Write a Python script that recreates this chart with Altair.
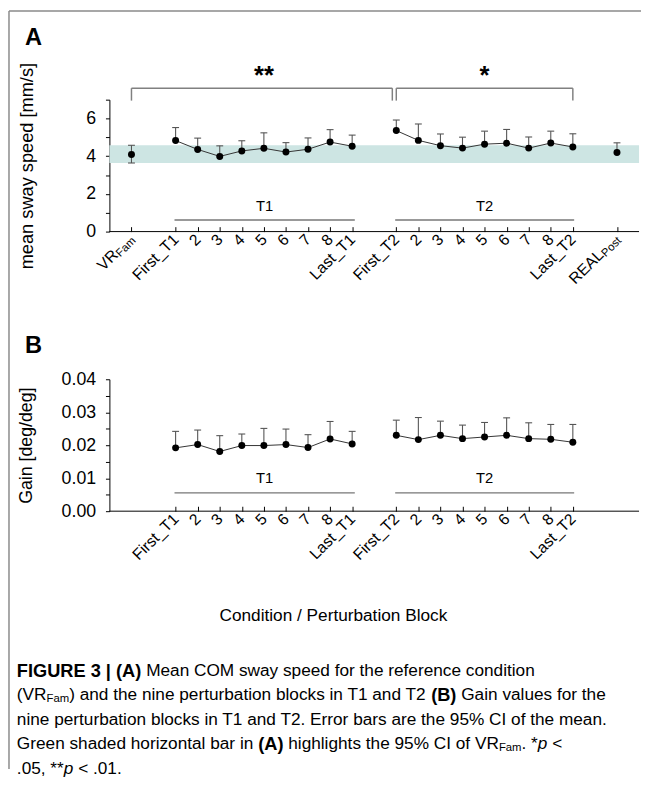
import altair as alt
import pandas as pd

FONT = "Liberation Sans"

# ---------------- data ----------------
# slot positions on the shared x axis (gaps at 1, 11, 21)
vr_pos = 0
t1_pos = [2, 3, 4, 5, 6, 7, 8, 9, 10]
t2_pos = [12, 13, 14, 15, 16, 17, 18, 19, 20]
real_pos = 22
block_labels = ["2", "3", "4", "5", "6", "7", "8"]
t1_labels = ["First_T1"] + block_labels + ["Last_T1"]
t2_labels = ["First_T2"] + block_labels + ["Last_T2"]

# Panel A: mean sway speed [mm/s]
vr_fam, vr_fam_lo, vr_fam_hi = 4.09, 3.64, 4.58
t1_speed = [4.83, 4.36, 3.99, 4.28, 4.42, 4.22, 4.37, 4.75, 4.53]
t1_speed_hi = [5.52, 4.96, 4.55, 4.82, 5.24, 4.72, 4.97, 5.41, 5.12]
t2_speed = [5.36, 4.84, 4.56, 4.43, 4.64, 4.69, 4.43, 4.70, 4.49]
t2_speed_hi = [5.92, 5.71, 5.18, 5.01, 5.33, 5.42, 5.02, 5.33, 5.19]
real_post, real_post_hi = 4.20, 4.71

# Panel B: gain [deg/deg]
t1_gain = [0.0192, 0.0202, 0.0181, 0.0199, 0.0199, 0.0202, 0.0193, 0.0219, 0.0204]
t1_gain_hi = [0.0242, 0.0246, 0.0229, 0.0234, 0.0251, 0.0249, 0.0232, 0.0272, 0.0242]
t2_gain = [0.0230, 0.0217, 0.0230, 0.0220, 0.0225, 0.0230, 0.0220, 0.0218, 0.0209]
t2_gain_hi = [0.0276, 0.0284, 0.0273, 0.0261, 0.0269, 0.0283, 0.0268, 0.0263, 0.0263]

# annotations
brackets_x = [[0, 11.82], [12, 20]]
bracket_y, bracket_tick_y = 7.61, 6.95
stars = ["**", "*"]
stars_x = [6, 16]
stars_y = 8.25
seg_names = ["T1", "T2"]
seg_x = [[1.95, 10.12], [11.95, 20.06]]

# ---------------- layout constants ----------------
W, H = 538, 134
XDOM = [-1, 23]
SLOT_LABELS = [""] * 23
for p, l in zip(t1_pos + t2_pos, t1_labels + t2_labels):
    SLOT_LABELS[p] = l
label_expr = "[" + ",".join("'%s'" % s for s in SLOT_LABELS) + "][datum.value]"

xscale = alt.Scale(domain=XDOM, nice=False, zero=False)
XLAB = 16


def x_axis(values, title=None, **kw):
    return alt.Axis(values=values, labelExpr=label_expr, labelAngle=315,
                    labelAlign="right", labelBaseline="middle", labelFontSize=XLAB,
                    labelFont=FONT, labelColor="black", labelPadding=5,
                    labelOverlap=False, labelFlush=False, labelBound=False,
                    tickSize=5, offset=-5, domain=False, tickColor="black",
                    grid=False, title=title, **kw)


def y_axis(values, expr, title, tsize):
    return alt.Axis(values=values, labelExpr=expr, labelOverlap=False,
                    tickSize=4, labelPadding=10, labelFontSize=18, labelFont=FONT,
                    labelColor="black", domainColor="black", tickColor="black",
                    grid=False, title=title, titleFont=FONT,
                    titleFontSize=tsize, titleFontWeight="normal", titleColor="black",
                    titleX=-84, titleY=H / 2, titleAngle=270, titleAlign="center",
                    titleBaseline="middle")


def seg_layers(XA, YA, yscale, line_y, label_y, size=15):
    d = pd.DataFrame({"x1": [s[0] for s in seg_x], "x2": [s[1] for s in seg_x],
                      "y": [line_y] * 2, "ly": [label_y] * 2,
                      "mx": [(s[0] + s[1]) / 2 for s in seg_x], "t": seg_names})
    ln = alt.Chart(d).mark_rule(color="#777777", strokeWidth=1.5).encode(
        x=alt.X("x1:Q", scale=xscale, axis=XA), x2="x2:Q",
        y=alt.Y("y:Q", scale=yscale, axis=YA))
    tx = alt.Chart(d).mark_text(font=FONT, fontSize=size, color="black",
                                baseline="middle").encode(
        x=alt.X("mx:Q", scale=xscale, axis=XA),
        y=alt.Y("ly:Q", scale=yscale, axis=YA), text="t:N")
    return ln, tx


def data_layers(df, caps, XA, YA, yscale):
    err = alt.Chart(df).mark_rule(color="#555555", strokeWidth=1.1).encode(
        x=alt.X("pos:Q", scale=xscale, axis=XA),
        y=alt.Y("lo:Q", scale=yscale, axis=YA), y2="hi:Q")
    cap = alt.Chart(caps).mark_tick(orient="horizontal", size=7, thickness=1.1,
                                    color="#555555", opacity=1).encode(
        x=alt.X("pos:Q", scale=xscale, axis=XA),
        y=alt.Y("y:Q", scale=yscale, axis=YA))
    line = alt.Chart(df).transform_filter(
        "datum.grp == 'T1' || datum.grp == 'T2'").mark_line(
        color="#333333", strokeWidth=1).encode(
        x=alt.X("pos:Q", scale=xscale, axis=XA),
        y=alt.Y("mean:Q", scale=yscale, axis=YA), detail="grp:N")
    pts = alt.Chart(df).mark_circle(size=50, color="black", opacity=1).encode(
        x=alt.X("pos:Q", scale=xscale, axis=XA),
        y=alt.Y("mean:Q", scale=yscale, axis=YA))
    base = alt.Chart(pd.DataFrame({"x1": [XDOM[0]], "x2": [XDOM[1]], "y": [0]})).mark_rule(
        color="black", strokeWidth=1).encode(
        x=alt.X("x1:Q", scale=xscale, axis=XA), x2="x2:Q",
        y=alt.Y("y:Q", scale=yscale, axis=YA))
    return [err, cap, line, pts, base]


# ---------------- panel A ----------------
rowsA = [dict(pos=vr_pos, mean=vr_fam, lo=vr_fam_lo, hi=vr_fam_hi, grp="VR")]
for p, m, h in zip(t1_pos, t1_speed, t1_speed_hi):
    rowsA.append(dict(pos=p, mean=m, lo=m, hi=h, grp="T1"))
for p, m, h in zip(t2_pos, t2_speed, t2_speed_hi):
    rowsA.append(dict(pos=p, mean=m, lo=m, hi=h, grp="T2"))
rowsA.append(dict(pos=real_pos, mean=real_post, lo=real_post, hi=real_post_hi, grp="REAL"))
dfA = pd.DataFrame(rowsA)
capsA = pd.DataFrame({"pos": [r["pos"] for r in rowsA] + [vr_pos],
                      "y": [r["hi"] for r in rowsA] + [vr_fam_lo]})

yA = alt.Scale(domain=[0, 7], nice=False, zero=True)
XA_A = x_axis([vr_pos] + t1_pos + t2_pos + [real_pos])
YA_A = y_axis(list(range(8)), "datum.value % 2 == 0 ? datum.label : ''",
              "mean sway speed [mm/s]", 18.5)

band = alt.Chart(pd.DataFrame({"x1": [XDOM[0]], "x2": [XDOM[1]],
                               "lo": [vr_fam_lo], "hi": [vr_fam_hi]})).mark_rect(
    color="#cde5e3").encode(
    x=alt.X("x1:Q", scale=xscale, axis=XA_A), x2="x2:Q",
    y=alt.Y("lo:Q", scale=yA, axis=YA_A), y2="hi:Q")

segA_line, segA_text = seg_layers(XA_A, YA_A, yA, 0.61, 1.34)

br_rows = []
for a, b in brackets_x:
    br_rows.append(dict(x1=a, x2=b, y1=bracket_y, y2=bracket_y))
    br_rows.append(dict(x1=a, x2=a, y1=bracket_tick_y, y2=bracket_y))
    br_rows.append(dict(x1=b, x2=b, y1=bracket_tick_y, y2=bracket_y))
brackets = alt.Chart(pd.DataFrame(br_rows)).mark_rule(
    color="#808080", strokeWidth=1.5).encode(
    x=alt.X("x1:Q", scale=xscale, axis=XA_A), x2="x2:Q",
    y=alt.Y("y1:Q", scale=yA, axis=YA_A), y2="y2:Q")

star_txt = alt.Chart(pd.DataFrame({"x": stars_x, "y": [stars_y] * 2, "t": stars})).mark_text(
    font=FONT, fontSize=26, fontWeight="bold", color="black", baseline="middle").encode(
    x=alt.X("x:Q", scale=xscale, axis=XA_A), y=alt.Y("y:Q", scale=yA, axis=YA_A), text="t:N")

layersA = data_layers(dfA, capsA, XA_A, YA_A, yA)

# subscripted tick labels
sub_df = pd.DataFrame({"pos": [vr_pos, real_pos], "main": ["VR", "REAL"], "sub": ["Fam", "Post"]})
SUB = 11.5
lab_main = alt.Chart(sub_df).mark_text(font=FONT, fontSize=XLAB, angle=315, align="right",
                                       baseline="middle", dx=-23, color="black").encode(
    x=alt.X("pos:Q", scale=xscale, axis=XA_A), y=alt.value(H + 5), text="main:N")
lab_sub = alt.Chart(sub_df).mark_text(font=FONT, fontSize=SUB, angle=315, align="right",
                                      baseline="middle", dy=4, color="black").encode(
    x=alt.X("pos:Q", scale=xscale, axis=XA_A), y=alt.value(H + 5), text="sub:N")

panel_lbl_A = alt.Chart(pd.DataFrame({"t": ["A"]})).mark_text(
    font=FONT, fontSize=24, fontWeight="bold", color="black", baseline="middle",
    align="center").encode(x=alt.value(-77), y=alt.value(-63), text="t:N")
frame_top = alt.Chart(pd.DataFrame({"a": [0]})).mark_rule(
    color="#8a8a8a", strokeWidth=1.5).encode(
    x=alt.value(-102), x2=alt.value(540), y=alt.value(-90))
frame_left = alt.Chart(pd.DataFrame({"a": [0]})).mark_rule(
    color="#8a8a8a", strokeWidth=1.5).encode(
    x=alt.value(-102), y=alt.value(-90), y2=alt.value(680))

chartA = alt.layer(band, segA_line, segA_text, brackets, star_txt, *layersA,
                   lab_main, lab_sub, panel_lbl_A, frame_top, frame_left).properties(
    width=W, height=H)

# ---------------- panel B ----------------
rowsB = []
for p, m, h in zip(t1_pos, t1_gain, t1_gain_hi):
    rowsB.append(dict(pos=p, mean=m, lo=m, hi=h, grp="T1"))
for p, m, h in zip(t2_pos, t2_gain, t2_gain_hi):
    rowsB.append(dict(pos=p, mean=m, lo=m, hi=h, grp="T2"))
dfB = pd.DataFrame(rowsB)
capsB = pd.DataFrame({"pos": dfB["pos"], "y": dfB["hi"]})

yB = alt.Scale(domain=[0, 0.04], nice=False, zero=True)
XA_B = x_axis(t1_pos + t2_pos, "Condition / Perturbation Block",
              titleFont=FONT, titleFontSize=17.5, titleFontWeight="normal",
              titleColor="black", titleX=227, titleY=111, titleAlign="center",
              titleBaseline="middle")
YA_B = y_axis([round(i * 0.005, 3) for i in range(9)],
              "round(datum.value * 1000) % 10 == 0 ? format(datum.value, '.2f') : ''",
              "Gain [deg/deg]", 18)

segB_line, segB_text = seg_layers(XA_B, YA_B, yB, 0.00555, 0.0100)
layersB = data_layers(dfB, capsB, XA_B, YA_B, yB)
panel_lbl_B = alt.Chart(pd.DataFrame({"t": ["B"]})).mark_text(
    font=FONT, fontSize=24, fontWeight="bold", color="black", baseline="middle",
    align="center").encode(x=alt.value(-77), y=alt.value(-34), text="t:N")

chartB = alt.layer(segB_line, segB_text, *layersB, panel_lbl_B).properties(width=W, height=H)

# ---------------- caption ----------------
REG = {' ': 278, '!': 278, '%': 889, '(': 333, ')': 333, '*': 389, ',': 278, '-': 333,
       '.': 278, '/': 278, '<': 584, '|': 260, '_': 556,
       'A': 667, 'B': 667, 'C': 722, 'D': 722, 'E': 667, 'F': 611, 'G': 778, 'H': 722,
       'I': 278, 'J': 500, 'K': 667, 'L': 556, 'M': 833, 'N': 722, 'O': 778, 'P': 667,
       'Q': 778, 'R': 722, 'S': 667, 'T': 611, 'U': 722, 'V': 667, 'W': 944, 'X': 667,
       'Y': 667, 'Z': 611,
       'a': 556, 'b': 556, 'c': 500, 'd': 556, 'e': 556, 'f': 278, 'g': 556, 'h': 556,
       'i': 222, 'j': 222, 'k': 500, 'l': 222, 'm': 833, 'n': 556, 'o': 556, 'p': 556,
       'q': 556, 'r': 333, 's': 500, 't': 278, 'u': 556, 'v': 500, 'w': 722, 'x': 500,
       'y': 500, 'z': 500}
BOLD = dict(REG)
BOLD.update({'|': 280, 'A': 722, 'B': 722, 'R': 722, 'U': 722, 'G': 778, 'E': 667,
             'F': 611, 'I': 278})

CAP_SIZE, CAP_BOLD, CAP_SUB = 17.5, 18.5, 11.5
caption_lines = [
    [("FIGURE 3 | (A)", "b"), (" Mean COM sway speed for the reference condition", "r")],
    [("(VR", "r"), ("Fam", "s"), (") and the nine perturbation blocks in T1 and T2 ", "r"),
     ("(B)", "b"), (" Gain values for the", "r")],
    [("nine perturbation blocks in T1 and T2. Error bars are the 95% CI of the mean.", "r")],
    [("Green shaded horizontal bar in ", "r"), ("(A)", "b"),
     (" highlights the 95% CI of VR", "r"), ("Fam", "s"), (". *", "r"), ("p", "i"), (" <", "r")],
    [(".05, **", "r"), ("p", "i"), (" < .01.", "r")],
]


def tw(s, size, bold=False):
    t = BOLD if bold else REG
    return sum(t.get(c, 556) for c in s) * size / 1000.0


X0 = 16 - 110
segs = {"r": [], "b": [], "i": [], "s": []}
for li, line in enumerate(caption_lines):
    y = 12 + 25 * li
    x = X0
    for text, st in line:
        size = {"s": CAP_SUB, "b": CAP_BOLD}.get(st, CAP_SIZE)
        bold = st == "b"
        lead = len(text) - len(text.lstrip(" "))
        x_start = x + tw(" " * lead, size, bold)
        segs[st].append(dict(x=x_start, y=y, t=text.strip(" ")))
        x += tw(text, size, bold)

cap_layers = []
for st, props in [("r", {}), ("b", {"fontWeight": "bold", "fontSize": CAP_BOLD}),
                  ("i", {"fontStyle": "italic"}),
                  ("s", {"fontSize": CAP_SUB, "dy": 4})]:
    kw = dict(font=FONT, fontSize=CAP_SIZE, align="left", baseline="middle", color="black")
    kw.update(props)
    cap_layers.append(alt.Chart(pd.DataFrame(segs[st])).mark_text(**kw).encode(
        x=alt.X("x:Q", scale=None, axis=None), y=alt.Y("y:Q", scale=None, axis=None),
        text="t:N"))

chartC = alt.layer(*cap_layers).properties(width=W, height=112)

chart = alt.vconcat(chartA, chartB, chartC, spacing=150, bounds="flush").properties(
    padding={"left": 0, "top": -4, "right": 0, "bottom": 0}).configure_view(
    stroke=None).configure_text(font=FONT)

chart.save("out.html", embed_options={"renderer": "svg", "actions": False})
